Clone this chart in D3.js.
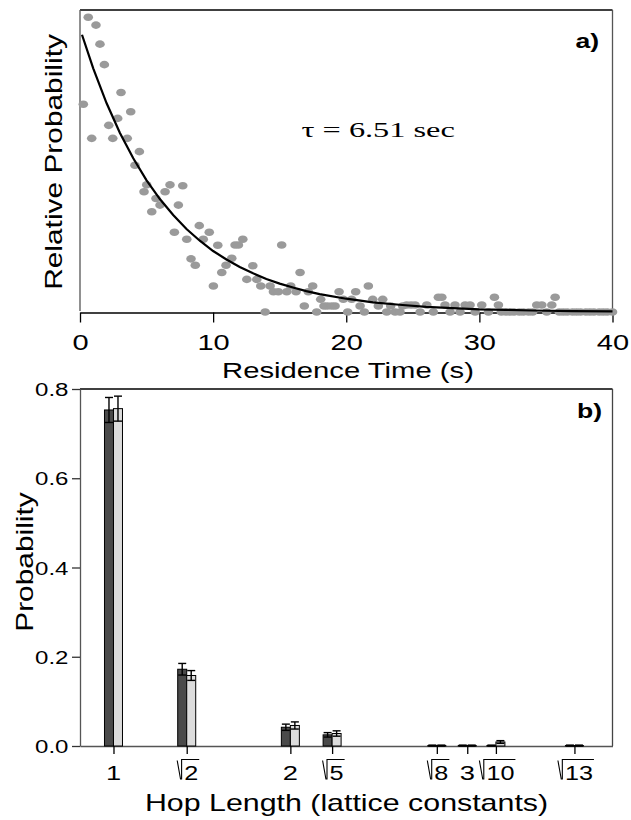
<!DOCTYPE html>
<html><head><meta charset="utf-8">
<script src="https://cdn.jsdelivr.net/npm/d3@7"></script>
<style>body{margin:0;background:#fff}</style>
</head><body>
<script>
// ---------- Panel a) data ----------
const residenceTime = [0.25,0.62,0.88,1.20,1.50,1.83,2.16,2.46,2.83,3.08,3.55,3.81,4.13,4.46,4.81,5.01,5.39,5.71,6.01,6.39,6.76,7.09,7.39,7.72,8.02,8.34,8.66,8.96,9.26,9.71,10.02,10.35,10.65,10.97,11.40,11.65,11.90,12.23,12.53,12.98,13.28,13.58,13.91,14.28,14.53,14.90,15.15,15.53,15.83,16.23,16.53,16.85,17.15,17.48,17.78,18.08,18.33,18.58,18.91,19.16,19.46,19.78,20.11,20.41,20.71,21.04,21.36,21.66,21.99,22.41,22.74,23.04,23.34,23.67,24.04,24.24,24.54,24.87,25.17,25.55,26.05,26.54,26.92,27.18,27.42,27.80,28.17,28.55,28.93,29.30,29.68,30.18,30.68,31.13,31.43,31.65,32.0,32.3,32.6,33.0,33.3,33.7,34.0,34.31,34.69,35.06,35.44,35.69,36.0,36.3,36.6,37.0,37.3,37.6,38.0,38.3,38.6,39.0,39.3,39.6,40.0];
const relativeProb = [68.8,97.6,57.5,95.0,88.7,81.9,61.8,57.5,64.1,72.7,57.5,66.3,48.6,53.1,39.8,42.1,33.2,37.6,35.4,39.8,42.1,26.4,35.4,41.8,24.1,17.6,15.5,28.6,24.1,26.4,8.6,22.1,13.1,15.5,17.8,22.2,22.2,24.1,10.8,15.3,10.8,8.6,0,8.6,6.7,6.7,22.2,6.7,8.6,6.7,13.1,2.0,6.7,8.6,0,4.2,2.0,2.0,2.0,2.0,6.7,4.2,0,4.2,6.7,2.0,0,8.6,4.2,2.0,4.2,0,2.0,0,0,2.0,2.3,2.3,2.3,0,2.3,0,4.9,4.9,2.3,0,2.3,0,2.3,2.3,0,2.3,0,4.9,2.3,0,0,0,0,0,0,0,0,2.3,2.3,0,2.3,4.9,0,0,0,0,0,0,0,0,0,0,0,0,0];
// exponential fit (tau = 6.51 s)
const fitTime = [0.15,1,2,3,4,5,6,7,8,9,10,11,12,13,14,15,16,17,18,20,22,24,26,28,30,32,34,37,40];
const fitProb = [91.8,80.6,69.1,59.3,50.9,43.6,37.4,32.1,27.5,23.6,20.2,17.4,14.9,12.8,10.9,9.4,8.1,6.9,5.9,4.4,3.2,2.4,1.7,1.3,0.9,0.7,0.5,0.3,0.2];
const timeTicks = [0,10,20,30,40];
const tauLabel = "\u03C4 = 6.51 sec";

// ---------- Panel b) data ----------
const hopLength  = [1, 1.414, 2, 2.236, 2.828, 3, 3.162, 3.606];
const hopNumber  = ["1","2","2","5","8","3","10","13"];
const hopRadical = [false,true,false,true,true,false,true,true];
const probDark   = [0.753,0.172,0.042,0.025,0.001,0.001,0.001,0.001];
const errDark    = [0.028,0.013,0.007,0.005,0.001,0.001,0.001,0.001];
const probLight  = [0.756,0.158,0.046,0.028,0.001,0.001,0.009,0.001];
const errLight   = [0.028,0.011,0.008,0.006,0.001,0.001,0.003,0.001];
const probTicks  = [0,0.2,0.4,0.6,0.8];

// ---------- drawing ----------
const W = 631, H = 820;
const svg = d3.select("body").append("svg").attr("width", W).attr("height", H)
  .style("background", "#fff");
const SANS = "'Liberation Sans', Arial, Helvetica, sans-serif";
const SERIF = "'Liberation Serif', 'Times New Roman', serif";

function label(parent, x, y, str, o) {
  return parent.append("text")
    .attr("transform", `translate(${x},${y}) rotate(${o.rotate || 0}) scale(${o.sx || 1.3},1)`)
    .attr("font-family", o.family || SANS)
    .attr("font-size", o.size)
    .attr("font-weight", o.weight || "normal")
    .attr("text-anchor", o.anchor || "middle")
    .attr("fill", "#000")
    .text(str);
}

// ===== Panel a =====
const L = 80, R = 612.5;
const xTime = d3.scaleLinear().domain([0, 40]).range([L, R]);
const yRel = d3.scaleLinear().domain([0, 100]).range([312, 10]);

const ga = svg.append("g");
ga.append("line").attr("x1", L).attr("x2", R).attr("y1", 10).attr("y2", 10).attr("stroke", "#000").attr("stroke-width", 1.3);
ga.append("line").attr("x1", L).attr("x2", L).attr("y1", 10).attr("y2", 311).attr("stroke", "#555").attr("stroke-width", 1.3);
ga.append("line").attr("x1", R).attr("x2", R).attr("y1", 10).attr("y2", 312).attr("stroke", "#555").attr("stroke-width", 1.3);

const axA = ga.append("g").attr("transform", "translate(0,312.5)")
  .call(d3.axisBottom(xTime).tickValues(timeTicks).tickSize(10).tickSizeOuter(0).tickFormat(d3.format("d")));
axA.select(".domain").attr("stroke", "#000").attr("stroke-width", 1.3);
axA.selectAll(".tick line").attr("stroke", "#000").attr("stroke-width", 1.3);
axA.selectAll(".tick text").attr("y", 0).attr("dy", null)
  .attr("transform", "translate(0,37.5) scale(1.35,1)")
  .attr("font-family", SANS).attr("font-size", 21.5).attr("fill", "#000");

// scatter points
ga.append("g").selectAll("ellipse").data(residenceTime).join("ellipse")
  .attr("cx", (d) => xTime(d))
  .attr("cy", (d, i) => yRel(relativeProb[i]))
  .attr("rx", 4.8).attr("ry", 3.8)
  .attr("fill", "#9a9a9a");

// fit curve
const line = d3.line().x((d) => xTime(d)).y((d, i) => yRel(fitProb[i]));
ga.append("path").attr("d", line(fitTime)).attr("fill", "none")
  .attr("stroke", "#000").attr("stroke-width", 2.2);

label(ga, 301.5, 137, tauLabel, {size: 22, family: SERIF, anchor: "start", sx: 1.47});
label(ga, 575.5, 47.5, "a)", {size: 20, weight: "bold", anchor: "start", sx: 1.33});
label(ga, 62, 162, "Relative Probability", {size: 23, rotate: -90, sx: 1.3});
label(ga, 348, 378, "Residence Time (s)", {size: 22.5, sx: 1.3});

// ===== Panel b =====
const xHop = d3.scaleLinear().domain([0.8107, 3.8212]).range([L, R]);
const yProb = d3.scaleLinear().domain([0, 0.8]).range([746, 389]);
const gb = svg.append("g");

gb.append("line").attr("x1", L).attr("x2", R).attr("y1", 389).attr("y2", 389).attr("stroke", "#000").attr("stroke-width", 1.3);
gb.append("line").attr("x1", R).attr("x2", R).attr("y1", 389).attr("y2", 746).attr("stroke", "#444").attr("stroke-width", 1.3);

const ayB = gb.append("g").attr("transform", `translate(${L},0)`)
  .call(d3.axisLeft(yProb).tickValues(probTicks).tickSize(8).tickSizeOuter(0).tickFormat(d3.format(".1f")));
ayB.select(".domain").attr("stroke", "#555").attr("stroke-width", 1.3);
ayB.selectAll(".tick line").attr("stroke", "#333").attr("stroke-width", 1.3);
ayB.selectAll(".tick text").attr("x", 0).attr("dy", "0.36em")
  .attr("transform", "translate(-11.5,0) scale(1.3,1)")
  .attr("font-family", SANS).attr("font-size", 18.5).attr("fill", "#000");

const axB = gb.append("g").attr("transform", "translate(0,746)")
  .call(d3.axisBottom(xHop).tickValues(hopLength).tickSize(8).tickSizeOuter(0).tickFormat(""));
axB.select(".domain").attr("stroke", "#555").attr("stroke-width", 1.3);
axB.selectAll(".tick line").attr("stroke", "#000").attr("stroke-width", 1.3);

// bars
const BW = 9;
const bars = gb.append("g");
bars.selectAll("rect.dark").data(hopLength).join("rect").attr("class", "dark")
  .attr("x", (d) => xHop(d) - BW).attr("width", BW)
  .attr("y", (d, i) => yProb(probDark[i])).attr("height", (d, i) => yProb(0) - yProb(probDark[i]))
  .attr("fill", "#4a4a4a").attr("stroke", "#000").attr("stroke-width", 1);
bars.selectAll("rect.light").data(hopLength).join("rect").attr("class", "light")
  .attr("x", (d) => xHop(d)).attr("width", BW)
  .attr("y", (d, i) => yProb(probLight[i])).attr("height", (d, i) => yProb(0) - yProb(probLight[i]))
  .attr("fill", "#dcdcdc").attr("stroke", "#000").attr("stroke-width", 1);

function errBars(vals, errs, off) {
  const g = gb.append("g").attr("stroke", "#000").attr("stroke-width", 1.4);
  hopLength.forEach((h, i) => {
    const cx = xHop(h) + off;
    const y1 = yProb(vals[i] + errs[i]), y2 = yProb(Math.max(0, vals[i] - errs[i]));
    g.append("line").attr("x1", cx).attr("x2", cx).attr("y1", y1).attr("y2", y2);
    g.append("line").attr("x1", cx - 4).attr("x2", cx + 4).attr("y1", y1).attr("y2", y1);
    g.append("line").attr("x1", cx - 4).attr("x2", cx + 4).attr("y1", y2).attr("y2", y2);
  });
}
errBars(probDark, errDark, -BW / 2);
errBars(probLight, errLight, BW / 2);

// hop tick labels (with radicals)
const baseY = 780;
hopLength.forEach((h, i) => {
  const tx = xHop(h);
  if (!hopRadical[i]) {
    label(gb, tx, baseY, hopNumber[i], {size: 21, sx: 1.3});
  } else {
    const sx = 1.2;
    const t = label(gb, 0, baseY, hopNumber[i], {size: 21, sx: sx, anchor: "start"});
    const w = t.node().getComputedTextLength() * sx;
    const total = 7 + w + 1;
    const x0 = tx - total / 2 + 1.5;
    t.attr("transform", `translate(${x0 + 7},${baseY}) scale(${sx},1)`);
    gb.append("path")
      .attr("d", `M${x0},${baseY - 19.5} L${x0 + 3.4},${baseY - 0.5} M${x0 + 4.4},${baseY - 0.5} L${x0 + 4.4},${baseY - 20.5} L${x0 + total},${baseY - 20.5}`)
      .attr("fill", "none").attr("stroke", "#000").attr("stroke-width", 1.1);
  }
});

label(gb, 577, 418, "b)", {size: 20, weight: "bold", anchor: "start", sx: 1.33});
label(gb, 33, 562, "Probability", {size: 23, rotate: -90, sx: 1.3});
label(gb, 346.5, 811, "Hop Length (lattice constants)", {size: 23, sx: 1.32});
</script>
</body></html>
